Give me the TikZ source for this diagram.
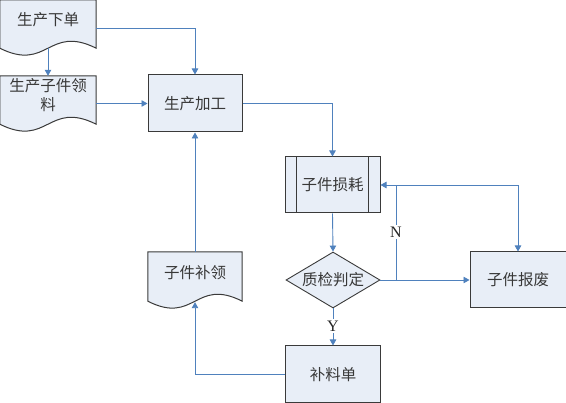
\documentclass[tikz,border=0pt]{standalone}
\usepackage{fontspec}
\setmainfont{Liberation Serif}
\newfontfamily\cjk{Noto Sans CJK SC}
\usetikzlibrary{arrows.meta,calc,shapes.geometric}
\definecolor{fillc}{HTML}{E8EEF7}
\definecolor{linec}{HTML}{4F81BD}
\definecolor{bordc}{HTML}{3A3A3A}
\tikzset{
  boxbase/.style={inner sep=0pt, font=\cjk\fontsize{15.5}{20}\selectfont, text=black!78},
  rbox/.style={boxbase, draw=bordc, line width=1pt, fill=fillc, minimum width=#1, minimum height=56pt},
  docnode/.style={boxbase, minimum width=96pt, align=center},
  docline/.style={draw=bordc, line width=1pt, fill=fillc},
  conn/.style={draw=linec, line width=0.9pt},
  arr/.style={conn, -{Triangle[length=6pt,width=6.5pt]}},
  lab/.style={fill=white, inner sep=1.5pt, font=\fontsize{16}{18}\selectfont, text=black!85}
}
\newcommand{\docoutline}[2]{% node name, amplitude offset
  \path[docline] (#1.north west) -- (#1.north east) -- (#1.south east)
    .. controls ($(#1.south)+(0,-#2)$) and ($(#1.south)+(0,#2)$) .. (#1.south west) -- cycle;}
\begin{document}
\begin{tikzpicture}[x=1pt,y=-1pt]
\useasboundingbox (0,0) rectangle (566,403);
% document shapes (invisible nodes for geometry)
\node[docnode, minimum height=48pt] (xd) at (48,24) {};
\node[docnode, minimum height=48pt] (lz) at (48,100) {};
\node[docnode, minimum width=94pt, minimum height=49pt] (bu) at (195,276.5) {};
\docoutline{xd}{24}
\docoutline{lz}{24}
\docoutline{bu}{24}
\node[docnode] (xdt) at (48,20) {生产下单};
\node[docnode, align=center] (lzt) at (48,95) {生产子件领\\[-1pt]料};
\node[docnode] (but) at (195,273) {子件补领};
% rectangles
\node[rbox=94pt, minimum height=57pt] (jg) at (195,103.5) {生产加工};
\node[rbox=95pt] (sh) at (332.5,185) {子件损耗};
\draw[draw=bordc, line width=1pt] ([xshift=12pt]sh.north west) -- ([xshift=12pt]sh.south west)
  ([xshift=-12pt]sh.north east) -- ([xshift=-12pt]sh.south east);
\node[boxbase, diamond, draw=bordc, line width=0.9pt, fill=fillc, minimum width=94pt, minimum height=56pt, aspect=1.68] (zj) at (333,280) {质检判定};
\node[rbox=96pt] (bf) at (518,280) {子件报废};
\node[rbox=95pt, minimum height=57pt] (bl) at (333,374.5) {补料单};
% connectors
\draw[arr] ([yshift=-4pt]xd.east) -| (jg.north);
\draw[arr] (xd.south) -- (lz.north);
\draw[arr] (lz.east |- jg.west) -- (jg.west);
\draw[arr] (jg.east) -| (sh.north);
\draw[arr] (sh.south) -- (zj.north);
\draw[arr] (zj.east) -- (bf.west);
\coordinate (nx) at (396,185);
\draw[conn] (zj.east) -| (nx);
\draw[arr] (nx) -- (sh.east);
\draw[arr] (nx) -| (bf.north);
\node[lab] (nl) at (396,232) {N};
\draw[arr] (zj.south) -- (bl.north);
\node[lab] (yl) at (333,326) {Y};
\draw[arr] (bl.west) -| ([yshift=-1pt]bu.south);
\draw[arr] (bu.north) -- (jg.south);
\end{tikzpicture}
\end{document}
